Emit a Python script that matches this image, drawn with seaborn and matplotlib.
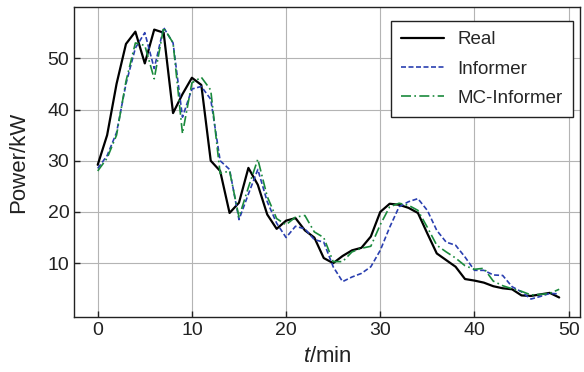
import numpy as np
import pandas as pd
import matplotlib
matplotlib.use("Agg")
import matplotlib.pyplot as plt
import seaborn as sns

t_min = list(range(50))
real = [29.2, 35.0, 45.0, 52.8, 55.2, 49.0, 55.6, 55.0, 39.3, 43.0,
        46.2, 44.8, 30.0, 28.0, 19.8, 21.8, 28.6, 25.3, 19.5, 16.7,
        18.3, 18.8, 16.4, 15.0, 11.0, 10.0, 11.4, 12.5, 13.0, 15.2,
        20.0, 21.6, 21.4, 20.8, 19.8, 15.8, 11.9, 10.6, 9.3, 6.9,
        6.6, 6.2, 5.5, 5.1, 4.9, 3.7, 3.6, 3.9, 4.2, 3.3]
informer = [28.5, 31.0, 35.5, 45.0, 52.0, 55.0, 48.0, 56.0, 53.0, 38.5,
            44.0, 44.5, 42.0, 30.0, 28.3, 18.5, 23.5, 28.3, 22.0, 17.8,
            15.0, 17.2, 16.7, 14.6, 14.1, 9.3, 6.4, 7.3, 8.0, 9.3,
            12.5, 17.0, 21.0, 22.0, 22.6, 20.3, 16.4, 14.1, 13.5, 11.2,
            8.6, 8.6, 7.7, 7.6, 5.4, 4.4, 3.0, 3.5, 4.1, 4.0]
mc_informer = [28.0, 30.5, 35.0, 45.5, 53.0, 52.5, 46.0, 56.0, 53.0, 35.3,
               45.2, 46.3, 43.8, 27.5, 28.0, 19.0, 24.8, 30.3, 23.0, 18.7,
               17.5, 19.0, 19.3, 16.1, 15.0, 10.3, 10.3, 12.2, 12.9, 13.3,
               17.5, 21.0, 21.7, 21.3, 20.3, 17.0, 13.5, 12.2, 11.0, 9.5,
               8.8, 9.0, 6.5, 5.6, 5.0, 4.5, 3.8, 3.9, 4.1, 4.9]

series_names = ["Real", "Informer", "MC-Informer"]
series_values = [real, informer, mc_informer]
colors = ["#000000", "#2a3fb0", "#1a8a3c"]
styles = ["-", (0, (3, 1.5)), (0, (6, 2, 1, 2))]
widths = [1.6, 1.2, 1.2]

sns.set_theme(style="ticks")
plt.rcParams['font.family'] = ['Liberation Sans', 'DejaVu Sans']
plt.rcParams['mathtext.fontset'] = 'custom'
plt.rcParams['mathtext.it'] = 'Liberation Sans:italic'
plt.rcParams['mathtext.rm'] = 'Liberation Sans'

fig = plt.figure(figsize=(5.84, 3.72), dpi=100)
ax = fig.add_axes([0.127, 0.148, 0.866, 0.833])

for name, vals, c, ls, lw in zip(series_names, series_values, colors, styles, widths):
    df = pd.DataFrame({"t": t_min, "v": vals})
    sns.lineplot(data=df, x="t", y="v", ax=ax, color=c, linestyle=ls,
                 linewidth=lw, label=name)

ax.set_xlim(-2.5, 51.2)
ax.set_ylim(-0.5, 60)
ax.set_xticks([0, 10, 20, 30, 40, 50])
ax.set_yticks([10, 20, 30, 40, 50])
ax.grid(True, color="#b4b4b4", linewidth=0.8)
ax.tick_params(direction="in", length=4, width=1, labelsize=14, colors="#222222")
for s in ax.spines.values():
    s.set_color("#222222")
    s.set_linewidth(1.0)
ax.set_xlabel(r"$t$/min", fontsize=16, color="#222222", labelpad=5)
ax.set_ylabel("Power/kW", fontsize=16, color="#222222", labelpad=13)

leg = ax.legend(loc="upper right", fontsize=13.5, frameon=True, fancybox=False,
                edgecolor="#222222", framealpha=1, handlelength=2.3,
                handletextpad=0.7, borderpad=0.55, labelspacing=0.65,
                bbox_to_anchor=(1.005, 0.986))
leg.get_frame().set_linewidth(1.0)

fig.savefig("out.png", dpi=100)
